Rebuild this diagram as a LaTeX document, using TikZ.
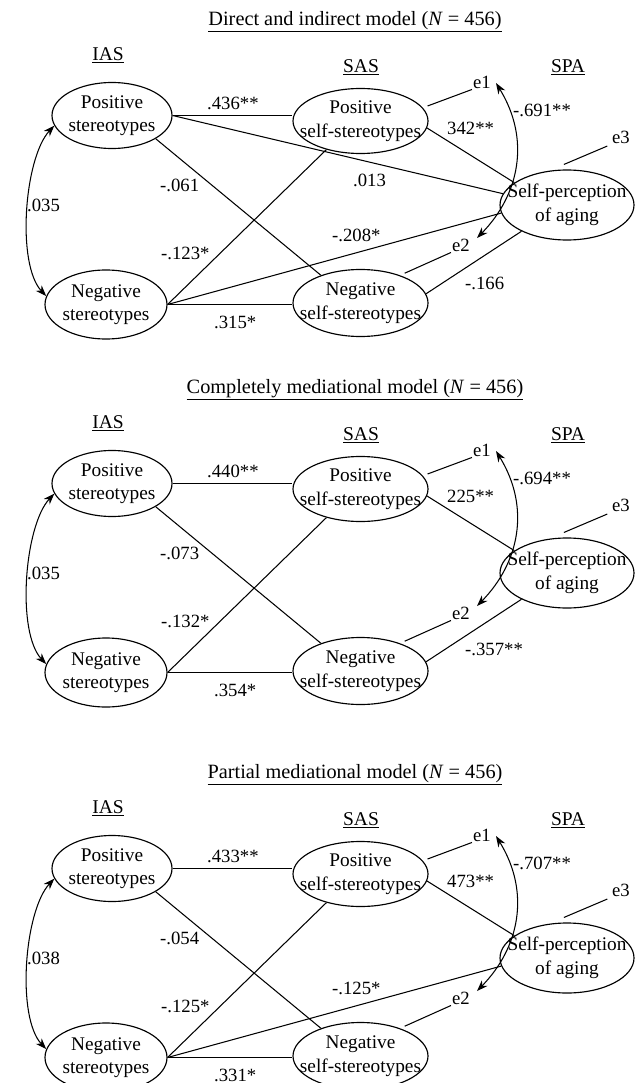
\documentclass[tikz,border=0pt]{standalone}
\usepackage{fontspec}
\setmainfont{Liberation Serif}
\usetikzlibrary{shapes.geometric,arrows.meta}
\newcommand\myfs{\fontsize{18.7}{23}\selectfont}
\newcommand\mynfs{\fontsize{19.3}{23.5}\selectfont}
\newcommand\myhfs{\fontsize{19.5}{23}\selectfont}
\newcommand\mytfs{\fontsize{20.3}{24}\selectfont}
\tikzset{
  ell/.style={draw, ellipse, inner sep=0pt, line width=1.15pt},
  txt/.style={align=center, inner sep=0pt, font=\mynfs},
  lbl/.style={anchor=west, inner sep=0pt, font=\myfs},
  hdr/.style={inner sep=0pt, font=\myhfs},
  ttl/.style={inner sep=0pt, font=\mytfs},
  enode/.style={inner sep=1pt, font=\myfs},
  conn/.style={line width=1.05pt},
  dbl/.style={line width=1.05pt, {Stealth[length=11pt,width=8pt]}-{Stealth[length=11pt,width=8pt]}},
}
\newcommand\mypanel[4]{%
  \node[ttl] (#1title) at (355,21.5) {\underline{#2}};
  \node[hdr] (#1ias) at (108,55) {\underline{IAS}};
  \node[hdr] (#1sas) at (361,67) {\underline{SAS}};
  \node[hdr] (#1spa) at (568,67) {\underline{SPA}};
  \node[ell,minimum width=120pt,minimum height=66pt] (#1PS) at (112,115.5) {};
  \node[txt] (#1PSt) at (#1PS) {Positive\\stereotypes};
  \node[ell,minimum width=122pt,minimum height=69pt] (#1NS) at (106,304.5) {};
  \node[txt] (#1NSt) at (#1NS) {Negative\\stereotypes};
  \node[ell,minimum width=135pt,minimum height=65pt] (#1PSS) at (360.5,121) {};
  \node[txt] (#1PSSt) at (#1PSS) {Positive\\self-stereotypes};
  \node[ell,minimum width=135pt,minimum height=67pt] (#1NSS) at (360.5,303) {};
  \node[txt] (#1NSSt) at (#1NSS) {Negative\\self-stereotypes};
  \node[ell,minimum width=134pt,minimum height=70pt] (#1SPA) at (567,205) {};
  \node[txt] (#1SPAt) at (#1SPA) {Self-perception\\of aging};
  \node[enode] (#1e1) at (482,82) {e1};
  \node[enode] (#1e2) at (461,245) {e2};
  \node[enode] (#1e3) at (621,137) {e3};
  \draw[conn] (#1PS.east) -- (#1PS.east -| #1PSS.west);
  \draw[conn] (#1PS.-28) -- (#1NSS.145);
  \draw[conn] (#1NS.east) -- (#1PSS.220);
  \draw[conn] (#1NS.east) -- (#1NS.east -| #1NSS.west);
  \draw[conn] (#1PSS.-6) -- (#1SPA.157);
  \draw[conn,shorten <=5pt] (#1PSS.12) -- (#1e1.south west);
  \draw[conn,shorten <=5pt] (#1NSS.35) -- (#1e2.south west);
  \draw[conn,shorten >=4pt] ([yshift=5pt]#1SPA.95) -- (#1e3.south west);
  \draw[dbl] ([shift={(4,1)}]#1e1.east) .. controls +(35,57) and +(42,-43) .. ([shift={(6,-7)}]#1e2.east);
  \draw[dbl] (#1PS.190) .. controls +(-30,32) and +(-30,-32) .. (#1NS.172);
  \node[lbl] (#1lcorr) at (27,205) {#3};
  \node[lbl] (#1lerr) at (513,110) {#4};
}
\begin{document}
\begin{tikzpicture}[x=1pt,y=-1pt]
\path[use as bounding box] (0,0) rectangle (637,1083);
% Panel 1
\begin{scope}
  \mypanel{a}{Direct and indirect model (\textit{N} = 456)}{.035}{-.691**}
  \draw[conn] (aPS.east) -- (aSPA.170);
  \draw[conn] (aNS.east) -- (aSPA.187);
  \draw[conn] (aNSS.8) -- (aSPA.210);
  \node[lbl] (al1) at (207,103) {.436**};
  \node[lbl] (al2) at (353,180) {.013};
  \node[lbl] (al3) at (160,185) {-.061};
  \node[lbl] (al4) at (161,253) {-.123*};
  \node[lbl] (al5) at (332,235) {-.208*};
  \node[lbl] (al6) at (214,322) {.315*};
  \node[lbl] (al7) at (447,128) {342**};
  \node[lbl] (al8) at (465,283) {-.166};
\end{scope}
% Panel 2
\begin{scope}[shift={(0,368)}]
  \mypanel{b}{Completely mediational model (\textit{N} = 456)}{.035}{-.694**}
  \draw[conn] (bNSS.8) -- (bSPA.210);
  \node[lbl] (bl1) at (207,103) {.440**};
  \node[lbl] (bl3) at (160,185) {-.073};
  \node[lbl] (bl4) at (161,253) {-.132*};
  \node[lbl] (bl6) at (214,322) {.354*};
  \node[lbl] (bl7) at (447,128) {225**};
  \node[lbl] (bl8) at (465,281) {-.357**};
\end{scope}
% Panel 3
\begin{scope}[shift={(0,753)}]
  \mypanel{c}{Partial mediational model (\textit{N} = 456)}{.038}{-.707**}
  \draw[conn] (cNS.east) -- (cSPA.187);
  \node[lbl] (cl1) at (207,103) {.433**};
  \node[lbl] (cl3) at (160,185) {-.054};
  \node[lbl] (cl4) at (161,253) {-.125*};
  \node[lbl] (cl5) at (332,235) {-.125*};
  \node[lbl] (cl6) at (214,322) {.331*};
  \node[lbl] (cl7) at (447,128) {473**};
\end{scope}
\end{tikzpicture}
\end{document}
